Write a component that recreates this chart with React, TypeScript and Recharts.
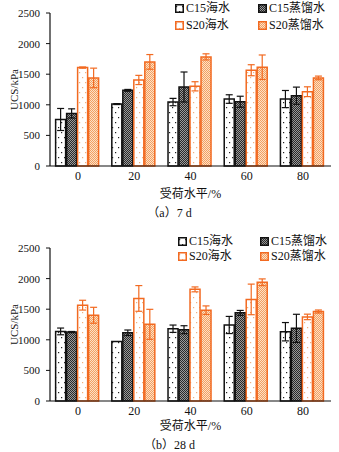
import { BarChart, Bar, XAxis, YAxis, ErrorBar } from "recharts"

const loadLevels = ["0", "20", "40", "60", "80"]

// 7 d
const c15Sea7 = [760, 1012, 1045, 1094, 1094]
const c15SeaErr7 = [180, 8, 60, 70, 140]
const c15Dist7 = [859, 1236, 1291, 1050, 1149]
const c15DistErr7 = [75, 15, 245, 90, 140]
const s20Sea7 = [1608, 1406, 1302, 1565, 1214]
const s20SeaErr7 = [10, 75, 75, 90, 80]
const s20Dist7 = [1439, 1701, 1783, 1614, 1439]
const s20DistErr7 = [160, 120, 50, 200, 30]

// 28 d
const c15Sea28 = [1137, 973, 1181, 1242, 1132]
const c15SeaErr28 = [55, 0, 60, 140, 150]
const c15Dist28 = [1126, 1115, 1165, 1440, 1187]
const c15DistErr28 = [10, 45, 65, 40, 230]
const s20Sea28 = [1566, 1676, 1824, 1660, 1374]
const s20SeaErr28 = [80, 210, 40, 250, 45]
const s20Dist28 = [1401, 1253, 1484, 1940, 1462]
const s20DistErr28 = [130, 245, 70, 55, 25]

const yTicks = [0, 500, 1000, 1500, 2000, 2500]

const ORANGE = "#f26a21"
const FONT = "'Liberation Serif', 'Noto Sans CJK SC', serif"

const seriesList = [
  { key: "c15Sea", name: "C15海水", fill: "url(#dotBlack)", stroke: "#111" },
  { key: "c15Dist", name: "C15蒸馏水", fill: "url(#checkDark)", stroke: "#111" },
  { key: "s20Sea", name: "S20海水", fill: "url(#dotOrange)", stroke: ORANGE },
  { key: "s20Dist", name: "S20蒸馏水", fill: "url(#checkOrange)", stroke: ORANGE },
]

const build = (a: number[], ae: number[], b: number[], be: number[], c: number[], ce: number[], d: number[], de: number[]) =>
  loadLevels.map((lvl, i) => ({
    level: lvl,
    c15Sea: a[i], c15SeaErr: ae[i],
    c15Dist: b[i], c15DistErr: be[i],
    s20Sea: c[i], s20SeaErr: ce[i],
    s20Dist: d[i], s20DistErr: de[i],
  }))

const data7 = build(c15Sea7, c15SeaErr7, c15Dist7, c15DistErr7, s20Sea7, s20SeaErr7, s20Dist7, s20DistErr7)
const data28 = build(c15Sea28, c15SeaErr28, c15Dist28, c15DistErr28, s20Sea28, s20SeaErr28, s20Dist28, s20DistErr28)

function Patterns() {
  return (
    <svg width={0} height={0} style={{ position: "absolute" }}>
      <defs>
        <pattern id="dotBlack" width={6} height={10} patternUnits="userSpaceOnUse">
          <rect width={6} height={10} fill="#fff" />
          <rect x={1} y={2} width={1.2} height={1.2} fill="#222" />
          <rect x={4} y={7} width={1.2} height={1.2} fill="#222" />
        </pattern>
        <pattern id="checkDark" width={2} height={2} patternUnits="userSpaceOnUse">
          <rect width={2} height={2} fill="#2a2a2a" />
          <rect x={0} y={0} width={1} height={1} fill="#9a9a9a" />
          <rect x={1} y={1} width={1} height={1} fill="#9a9a9a" />
        </pattern>
        <pattern id="dotOrange" width={6} height={10} patternUnits="userSpaceOnUse">
          <rect width={6} height={10} fill="#fff" />
          <rect x={1} y={2} width={1.2} height={1.2} fill="#f0b080" />
          <rect x={4} y={7} width={1.2} height={1.2} fill="#f0b080" />
        </pattern>
        <pattern id="checkOrange" width={2} height={2} patternUnits="userSpaceOnUse">
          <rect width={2} height={2} fill="#fbe0c8" />
          <rect x={0} y={0} width={1} height={1} fill="#f4a060" />
          <rect x={1} y={1} width={1} height={1} fill="#f4a060" />
        </pattern>
      </defs>
    </svg>
  )
}

function ChartLegend({ top, left, colGap, rowGap }: { top: number; left: number; colGap: number; rowGap: number }) {
  return (
    <div style={{ position: "absolute", top, left, fontFamily: FONT, fontSize: 12, lineHeight: "14px", color: "#111" }}>
      {seriesList.map((s, i) => (
        <div
          key={s.key}
          style={{
            position: "absolute",
            left: (i % 2) * colGap,
            top: Math.floor(i / 2) * rowGap,
            display: "flex",
            alignItems: "center",
            whiteSpace: "nowrap",
          }}
        >
          <svg width={9} height={9} style={{ marginRight: 2 }}>
            <rect x={0.75} y={0.75} width={7.5} height={7.5} fill={s.fill} stroke={s.stroke} strokeWidth={1.5} />
          </svg>
          <span>{s.name}</span>
        </div>
      ))}
    </div>
  )
}

function Panel({ data, height, top, xLabelOffset }: { data: any[]; height: number; top: number; xLabelOffset: number }) {
  return (
    <BarChart
      width={339}
      height={height}
      data={data}
      margin={{ top, right: 8, left: 0, bottom: 0 }}
      barCategoryGap="10%"
      barGap={1}
    >
      <XAxis
        dataKey="level"
        height={height - top - 153}
        axisLine={{ stroke: "#111", strokeWidth: 1.2 }}
        tickLine={false}
        tickSize={3}
        tickMargin={2}
        tick={{ fill: "#111", fontSize: 12, fontFamily: FONT }}
        label={{ value: "受荷水平/%", position: "insideBottom", offset: xLabelOffset, fill: "#111", fontSize: 12, fontFamily: FONT }}
      />
      <YAxis
        width={50}
        domain={[0, 2500]}
        ticks={yTicks}
        interval={0}
        axisLine={{ stroke: "#111", strokeWidth: 1.2 }}
        tickLine={{ stroke: "#111" }}
        tickSize={4}
        tickMargin={6}
        tick={{ fill: "#111", fontSize: 11, fontFamily: FONT }}
        label={{ value: "UCS/kPa", angle: -90, position: "insideLeft", offset: 14, fill: "#111", fontSize: 11, fontFamily: FONT, style: { textAnchor: "middle" } }}
      />
      {seriesList.map((s) => (
        <Bar key={s.key} dataKey={s.key} name={s.name} fill={s.fill} stroke={s.stroke} strokeWidth={1.5} isAnimationActive={false}>
          <ErrorBar dataKey={s.key + "Err"} width={3.5} stroke={s.stroke} strokeWidth={1.2} direction="y" />
        </Bar>
      ))}
    </BarChart>
  )
}

const captionStyle = {
  position: "absolute" as const,
  left: 0,
  width: 339,
  textAlign: "center" as const,
  fontFamily: FONT,
  fontSize: 12,
  color: "#111",
}

export default function App() {
  return (
    <div style={{ position: "absolute", left: 0, top: 0, width: 339, height: 452, background: "#fff", overflow: "hidden" }}>
      <Patterns />
      <div style={{ position: "absolute", left: 0, top: 0 }}>
        <Panel data={data7} height={206} top={13} xLabelOffset={8} />
        <ChartLegend top={1} left={175} colGap={83} rowGap={17} />
      </div>
      <div style={{ ...captionStyle, top: 203 }}>（a）7 d</div>
      <div style={{ position: "absolute", left: 0, top: 225 }}>
        <Panel data={data28} height={212} top={23} xLabelOffset={7} />
        <ChartLegend top={9} left={178} colGap={82} rowGap={15} />
      </div>
      <div style={{ ...captionStyle, top: 435 }}>（b）28 d</div>
    </div>
  )
}
